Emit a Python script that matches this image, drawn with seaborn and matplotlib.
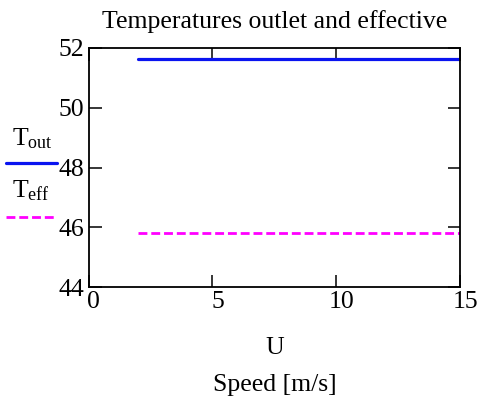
import matplotlib
matplotlib.use("Agg")
import matplotlib.pyplot as plt
import matplotlib.transforms as mtransforms
from matplotlib.lines import Line2D
import seaborn as sns
import pandas as pd

# Outlet and effective temperatures versus wind speed
speed = [2, 15]
t_out = [51.63, 51.63]
t_eff = [45.82, 45.82]
x_ticks = [0, 5, 10, 15]
y_ticks = [44, 46, 48, 50, 52]

sns.set_style("white")
plt.rcParams["font.family"] = ["Liberation Serif", "DejaVu Serif"]
plt.rcParams["mathtext.fontset"] = "custom"
plt.rcParams["mathtext.rm"] = "Liberation Serif"
plt.rcParams["mathtext.it"] = "Liberation Serif:italic"
plt.rcParams["text.color"] = "black"
plt.rcParams["axes.labelcolor"] = "black"

FS = 18.5
blue = "#0a14f0"
magenta = "#ff00ff"

df = pd.DataFrame({"U": speed + speed,
                   "T": t_out + t_eff,
                   "series": ["out"] * len(speed) + ["eff"] * len(speed)})

W, H = 480, 404
L, R, B, T = 88.7 / W, 460 / W, 1 - 287.3 / H, 1 - 47.7 / H

fig = plt.figure(figsize=(4.8, 4.04), dpi=100)
ax = fig.add_axes([L, B, R - L, T - B])

sns.lineplot(data=df[df.series == "out"], x="U", y="T", ax=ax,
             color=blue, linewidth=2.3, legend=False)
sns.lineplot(data=df[df.series == "eff"], x="U", y="T", ax=ax,
             color=magenta, linewidth=2.0, legend=False)
ax.lines[1].set_dashes((3.2, 1.4))

ax.set_xlim(0, 15)
ax.set_ylim(44, 52)
ax.set_xticks(x_ticks)
ax.set_yticks(y_ticks)
ax.tick_params(direction="in", length=9, width=1.1,
               top=True, right=True, bottom=True, left=True,
               labelsize=FS, colors="black", pad=3)
# x tick labels sit a little to the right of their ticks
shift = mtransforms.ScaledTranslation(5 / 100, 0, fig.dpi_scale_trans)
for lab in ax.get_xticklabels():
    lab.set_transform(lab.get_transform() + shift)
for s in ax.spines.values():
    s.set_visible(True)
    s.set_color("black")
    s.set_linewidth(1.3)

ax.set_title("Temperatures outlet and effective", fontsize=FS, pad=14)
ax.set_xlabel("U", fontsize=FS, labelpad=17)
ax.set_ylabel("")
fig.text((L + R) / 2, 1 - 385 / H, "Speed [m/s]", fontsize=FS,
         ha="center", va="center")

# legend keys at the left
fig.text(12 / W, 1 - 145 / H, r"T$_{\mathrm{out}}$", fontsize=FS,
         ha="left", va="baseline")
fig.add_artist(Line2D([6 / W, 57 / W], [1 - 163.3 / H] * 2,
                      color=blue, linewidth=2.3))
fig.text(12 / W, 1 - 197 / H, r"T$_{\mathrm{eff}}$", fontsize=FS,
         ha="left", va="baseline")
fig.add_artist(Line2D([6 / W, 54 / W], [1 - 217 / H] * 2,
                      color=magenta, linewidth=2.0, dashes=(3.2, 1.4)))

fig.savefig("out.png", dpi=100, facecolor="white")
